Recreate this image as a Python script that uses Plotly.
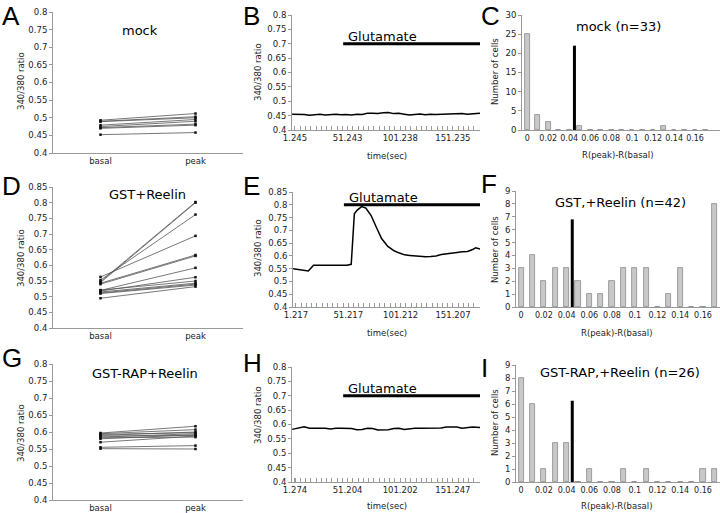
import plotly.graph_objects as go

W, H = 720, 513

# ---- A / D / G : ratio of each cell, basal vs peak
conditions = ['basal', 'peak']

mock_basal = [0.493, 0.490, 0.489, 0.479, 0.475, 0.472, 0.470, 0.452]
mock_peak = [0.512, 0.503, 0.500, 0.495, 0.490, 0.482, 0.479, 0.458]

gst_basal = [0.545, 0.548, 0.553, 0.563, 0.540, 0.543, 0.520, 0.518, 0.521, 0.515, 0.512, 0.510, 0.495]
gst_peak = [0.800, 0.802, 0.762, 0.694, 0.630, 0.633, 0.592, 0.562, 0.550, 0.543, 0.540, 0.537, 0.532]

rap_basal = [0.597, 0.595, 0.593, 0.590, 0.588, 0.585, 0.583, 0.580, 0.570, 0.555, 0.551]
rap_peak = [0.617, 0.607, 0.598, 0.600, 0.590, 0.595, 0.585, 0.592, 0.588, 0.560, 0.550]

# ---- B / E / H : single cell traces
time_b = [-1.5, 5, 10, 15, 20, 25, 30, 35, 40, 45, 50, 55, 60, 65, 70, 75, 80, 85, 90,
          95, 100, 105, 110, 115, 120, 125, 130, 135, 140, 145, 150, 155, 160, 165, 170, 177]
ratio_b = [0.455, 0.455, 0.454, 0.451, 0.454, 0.455, 0.452, 0.454, 0.455, 0.453, 0.454, 0.452,
           0.455, 0.454, 0.458, 0.458, 0.457, 0.460, 0.461, 0.457, 0.458, 0.455, 0.452, 0.454,
           0.456, 0.453, 0.455, 0.454, 0.455, 0.456, 0.455, 0.456, 0.457, 0.455, 0.457, 0.458]
ticks_b = [1.245, 51.243, 101.238, 151.235]

time_e = [-1.5, 5, 10, 13, 15, 18, 25, 30, 35, 40, 45, 50, 54, 57, 60, 64, 68, 73, 78, 83, 89,
          95, 100, 105, 110, 115, 120, 125, 130, 135, 140, 145, 150, 155, 160, 165, 170, 173, 177]
ratio_e = [0.550, 0.547, 0.545, 0.541, 0.550, 0.563, 0.563, 0.563, 0.563, 0.563, 0.563, 0.563,
           0.567, 0.765, 0.780, 0.793, 0.787, 0.758, 0.712, 0.668, 0.637, 0.620, 0.611, 0.604,
           0.602, 0.600, 0.598, 0.597, 0.598, 0.600, 0.605, 0.607, 0.610, 0.613, 0.616, 0.617,
           0.625, 0.632, 0.627]
ticks_e = [1.217, 51.217, 101.212, 151.207]

time_h = time_b
ratio_h = [0.583, 0.588, 0.592, 0.587, 0.587, 0.586, 0.587, 0.584, 0.587, 0.587, 0.587, 0.586,
           0.582, 0.583, 0.587, 0.586, 0.581, 0.581, 0.582, 0.586, 0.587, 0.583, 0.586, 0.587,
           0.587, 0.587, 0.588, 0.588, 0.588, 0.591, 0.591, 0.591, 0.587, 0.590, 0.591, 0.590]
ticks_h = [1.274, 51.204, 101.202, 151.247]

glut_on = [47, 177]
glut_level = {'B': 0.7, 'E': 0.8, 'H': 0.7}

# ---- C / F / I : histograms of R(peak)-R(basal)
bins = [0, 0.01, 0.02, 0.03, 0.04, 0.05, 0.06, 0.07, 0.08,
        0.09, 0.10, 0.11, 0.12, 0.13, 0.14, 0.15, 0.16, 0.17]
counts_mock = [25, 4, 2, 0, 0, 1, 0, 0, 0, 0, 0, 0, 0, 1, 0, 0, 0, 0]
counts_gst = [3, 4, 2, 3, 3, 2, 1, 1, 2, 3, 3, 3, 0, 1, 3, 0, 0, 8]
counts_rap = [8, 6, 1, 3, 3, 0, 1, 0, 0, 1, 0, 1, 0, 0, 0, 0, 1, 1]
cutoff = 0.045
cutoff_top = {'C': 22, 'F': 6.8, 'I': 6.25}
hist_ticks = [0, 0.02, 0.04, 0.06, 0.08, 0.1, 0.12, 0.14, 0.16]


def fx(p):
    return p / W


def fy(p):
    return 1 - p / H


TICK_FONT = dict(family='DejaVu Sans', size=8.5, color='#222')
AX = dict(showline=True, linecolor='#999', linewidth=1, showgrid=False, zeroline=False,
          tickfont=TICK_FONT, tickcolor='#999', automargin=False, tickangle=0)

# pixel boxes: name -> (x0, x1, ytop, ybottom)
boxes = {
    'A': (53, 243, 12, 153), 'B': (292, 480, 15, 130), 'C': (522, 720, 15, 130),
    'D': (53, 243, 187, 328), 'E': (293, 480, 192, 307), 'F': (516, 720, 191, 307),
    'G': (53, 243, 364, 500), 'H': (292, 480, 367, 482), 'I': (516, 720, 365, 482),
}
order = ['A', 'B', 'C', 'D', 'E', 'F', 'G', 'H', 'I']

fig = go.Figure()
layout = {}
annotations = []

for i, name in enumerate(order, start=1):
    x0, x1, yt, yb = boxes[name]
    sfx = '' if i == 1 else str(i)
    layout['xaxis' + sfx] = dict(AX, domain=[fx(x0), fx(x1)], anchor='y' + sfx)
    layout['yaxis' + sfx] = dict(AX, domain=[fy(yb), fy(yt)], anchor='x' + sfx,
                                 ticks='outside', ticklen=3)

xa = lambda i: 'x' if i == 1 else 'x%d' % i
ya = lambda i: 'y' if i == 1 else 'y%d' % i

# paired plots
paired = [(1, mock_basal, mock_peak, [0.4, 0.8], 0.05),
          (4, gst_basal, gst_peak, [0.4, 0.85], 0.05),
          (7, rap_basal, rap_peak, [0.4, 0.8], 0.05)]
for i, b, p, rng, dt in paired:
    for vb, vp in zip(b, p):
        fig.add_trace(go.Scatter(
            x=conditions, y=[vb, vp], xaxis=xa(i), yaxis=ya(i), mode='lines+markers',
            line=dict(color='#555', width=0.8),
            marker=dict(symbol='square', size=2.5, color='#111'),
            showlegend=False))
    sfx = '' if i == 1 else str(i)
    layout['xaxis' + sfx].update(type='category', range=[-0.5, 1.5], ticks='')
    layout['yaxis' + sfx].update(range=rng, dtick=dt)

# time traces
traces = [(2, 'B', time_b, ratio_b, ticks_b, [0.4, 0.8]),
          (5, 'E', time_e, ratio_e, ticks_e, [0.4, 0.85]),
          (8, 'H', time_h, ratio_h, ticks_h, [0.4, 0.8])]
for i, name, t, r, tv, rng in traces:
    fig.add_trace(go.Scatter(x=t, y=r, xaxis=xa(i), yaxis=ya(i), mode='lines',
                             line=dict(color='black', width=1.5), showlegend=False))
    lvl = glut_level[name]
    fig.add_trace(go.Scatter(x=glut_on, y=[lvl, lvl], xaxis=xa(i), yaxis=ya(i), mode='lines',
                             line=dict(color='black', width=3), showlegend=False))
    annotations.append(dict(x=glut_on[0] + 3, y=lvl, xref=xa(i), yref=ya(i), text='Glutamate',
                            showarrow=False, xanchor='left', yanchor='bottom', yshift=-2,
                            font=dict(family='DejaVu Sans', size=13, color='black')))
    sfx = str(i)
    layout['xaxis' + sfx].update(range=[-1.6, 177], tickvals=tv, ticktext=[str(v) for v in tv],
                                 ticks='inside', ticklen=4,
                                 minor=dict(dtick=5, tick0=1.2, ticks='inside', ticklen=4,
                                            tickcolor='#999'))
    layout['yaxis' + sfx].update(range=rng, dtick=0.05)

# histograms
hists = [(3, 'C', counts_mock, [0, 30], 5, [-0.005, 0.1838]),
         (6, 'F', counts_gst, [0, 9], 1, [-0.0045, 0.175]),
         (9, 'I', counts_rap, [0, 9], 1, [-0.0045, 0.175])]
for i, name, cnt, rng, dt, xr in hists:
    fig.add_trace(go.Bar(x=bins, y=cnt, xaxis=xa(i), yaxis=ya(i), width=0.0045,
                         marker=dict(color='#c8c8c8', line=dict(color='#8a8a8a', width=0.8)),
                         showlegend=False))
    fig.add_trace(go.Scatter(x=[cutoff, cutoff], y=[0, cutoff_top[name]], xaxis=xa(i), yaxis=ya(i),
                             mode='lines', line=dict(color='black', width=3), showlegend=False))
    sfx = str(i)
    layout['xaxis' + sfx].update(range=xr, tickvals=hist_ticks, ticks='',
                                 tickfont=dict(TICK_FONT, size=8))
    layout['yaxis' + sfx].update(range=rng, dtick=dt)

# panel titles
TITLE_FONT = dict(family='DejaVu Sans', size=13, color='black')
titles = [('mock', 140, 30), ('GST+Reelin', 147, 195), ('GST-RAP+Reelin', 145, 373),
          ('mock (n=33)', 618, 27), ('GST,+Reelin (n=42)', 620, 202),
          ('GST-RAP,+Reelin (n=26)', 620, 372)]
for txt, x, y in titles:
    annotations.append(dict(x=fx(x), y=fy(y), xref='paper', yref='paper', text=txt,
                            showarrow=False, xanchor='center', yanchor='middle', font=TITLE_FONT))

# axis titles
LAB_FONT = dict(family='DejaVu Sans', size=8.5, color='#222')
ylabels = [('340/380 ratio', 21, 81), ('340/380 ratio', 258, 72), ('Number of cells', 495, 72),
           ('340/380 ratio', 21, 258), ('340/380 ratio', 258, 248), ('Number of cells', 495, 250),
           ('340/380 ratio', 21, 433), ('340/380 ratio', 258, 415), ('Number of cells', 495, 423)]
for txt, x, y in ylabels:
    annotations.append(dict(x=fx(x), y=fy(y), xref='paper', yref='paper', text=txt,
                            textangle=-90, showarrow=False, xanchor='center', yanchor='middle',
                            font=LAB_FONT))
xlabels = [('time(sec)', 387, 156), ('time(sec)', 387, 333), ('time(sec)', 387, 506),
           ('R(peak)-R(basal)', 618, 155), ('R(peak)-R(basal)', 617, 333),
           ('R(peak)-R(basal)', 617, 506)]
for txt, x, y in xlabels:
    annotations.append(dict(x=fx(x), y=fy(y), xref='paper', yref='paper', text=txt,
                            showarrow=False, xanchor='center', yanchor='middle', font=LAB_FONT))

# panel letters
letters = [('A', 0, 16), ('B', 241, 16), ('C', 479, 16), ('D', 0, 186), ('E', 241, 186),
           ('F', 479, 184), ('G', 0, 358), ('H', 241, 363), ('I', 479, 368)]
for txt, x, y in letters:
    annotations.append(dict(x=fx(x), y=fy(y), xref='paper', yref='paper', text=txt,
                            showarrow=False, xanchor='left', yanchor='middle',
                            font=dict(family='Liberation Sans', size=26, color='black')))

fig.update_layout(
    width=W,
    height=H,
    margin=dict(l=0, r=0, t=0, b=0),
    paper_bgcolor='white',
    plot_bgcolor='white',
    annotations=annotations,
    bargap=0,
    **layout
)

# the page body has a default margin; drop it so the figure sits at the window corner
fig.write_html("out.html", config={'displayModeBar': False},
               post_script="document.body.style.margin = '0px';")
